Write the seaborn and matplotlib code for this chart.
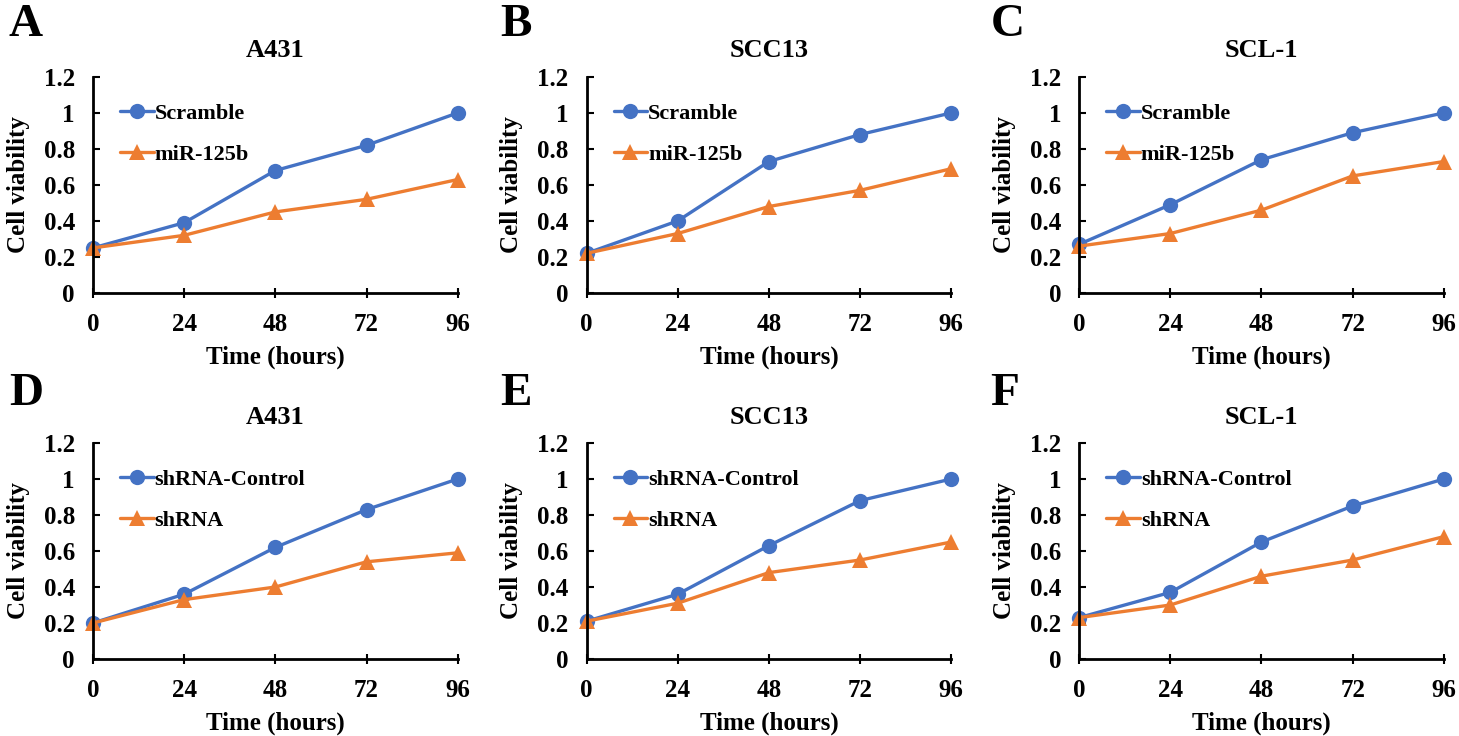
import pandas as pd
import matplotlib.pyplot as plt
import seaborn as sns

sns.set_theme(style="white")
plt.rcParams['font.family'] = ['Liberation Serif', 'DejaVu Serif']
plt.rcParams['font.weight'] = 'bold'
plt.rcParams['text.color'] = 'black'
plt.rcParams['axes.labelcolor'] = 'black'

# Dados
time_h = [0, 24, 48, 72, 96]
panels = ['A', 'B', 'C', 'D', 'E', 'F']
cell_lines = ['A431', 'SCC13', 'SCL-1', 'A431', 'SCC13', 'SCL-1']
groups_top = ['Scramble', 'miR-125b']
groups_bottom = ['shRNA-Control', 'shRNA']

scramble_a = [0.25, 0.39, 0.68, 0.82, 1.00]
mir_a = [0.25, 0.32, 0.45, 0.52, 0.63]
scramble_b = [0.22, 0.40, 0.73, 0.88, 1.00]
mir_b = [0.22, 0.33, 0.48, 0.57, 0.69]
scramble_c = [0.27, 0.49, 0.74, 0.89, 1.00]
mir_c = [0.26, 0.33, 0.46, 0.65, 0.73]
control_d = [0.20, 0.36, 0.62, 0.83, 1.00]
shrna_d = [0.20, 0.33, 0.40, 0.54, 0.59]
control_e = [0.21, 0.36, 0.63, 0.88, 1.00]
shrna_e = [0.21, 0.31, 0.48, 0.55, 0.65]
control_f = [0.23, 0.37, 0.65, 0.85, 1.00]
shrna_f = [0.23, 0.30, 0.46, 0.55, 0.68]

series = [
    (scramble_a, mir_a), (scramble_b, mir_b), (scramble_c, mir_c),
    (control_d, shrna_d), (control_e, shrna_e), (control_f, shrna_f),
]

palette = ['#4472C4', '#ED7D31']

fig = plt.figure(figsize=(14.59, 7.36), dpi=100)
lefts = [0.0637, 0.402, 0.7396]
bottoms = [0.602, 0.1046]
w, h = 0.250, 0.2935
letter_x = [0.006, 0.343, 0.679]
letter_y = [0.995, 0.493]

for i, (first, second) in enumerate(series):
    row, col = divmod(i, 3)
    names = groups_top if row == 0 else groups_bottom
    df = pd.DataFrame({
        'time': time_h * 2,
        'viability': first + second,
        'group': [names[0]] * 5 + [names[1]] * 5,
    })
    ax = fig.add_axes([lefts[col], bottoms[row], w, h])
    sns.lineplot(data=df, x='time', y='viability', hue='group', style='group',
                 markers=['o', '^'], dashes=False, palette=palette, ax=ax,
                 linewidth=2.4, markersize=11, markeredgewidth=0, clip_on=False)
    ax.set_xlim(0, 96)
    ax.set_ylim(0, 1.2)
    ax.set_xticks(time_h)
    ax.set_yticks([0, 0.2, 0.4, 0.6, 0.8, 1.0, 1.2])
    ax.set_yticklabels(['0', '0.2', '0.4', '0.6', '0.8', '1', '1.2'])
    ax.tick_params(axis='x', direction='inout', length=7, width=1.5, pad=11,
                   labelsize=18, colors='black')
    ax.tick_params(axis='y', direction='in', length=5, width=1.5, pad=13,
                   labelsize=18, colors='black')
    ax.tick_params(bottom=True, left=True)
    for lab in ax.get_xticklabels() + ax.get_yticklabels():
        lab.set_fontweight('bold')
    sns.despine(ax=ax)
    for s in ['left', 'bottom']:
        ax.spines[s].set_color('black')
        ax.spines[s].set_linewidth(2)
    ax.set_xlabel('Time (hours)', fontsize=18, fontweight='bold', labelpad=7)
    ax.set_ylabel('Cell viability', fontsize=18, fontweight='bold', labelpad=10)
    ax.set_title(cell_lines[i], fontsize=19, fontweight='bold', pad=14)
    fig.text(letter_x[col], letter_y[row], panels[i], fontsize=34,
             fontweight='bold', va='top', ha='left')
    ax.legend(loc='center left', bbox_to_anchor=(0.02, 0.735), frameon=False,
              handlelength=1.5, handletextpad=0.05, labelspacing=0.9,
              prop={'size': 16, 'weight': 'bold'})

fig.savefig('out.png', dpi=100)
